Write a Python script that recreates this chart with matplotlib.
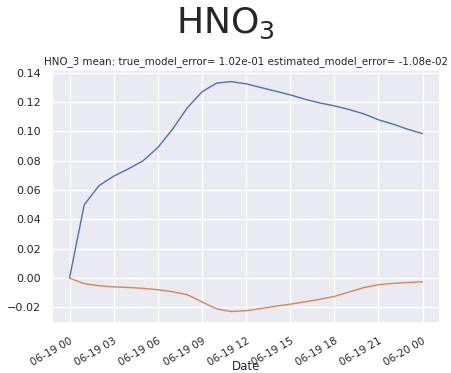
import numpy as np
import pandas as pd
import seaborn as sns
from matplotlib import pyplot as plt
import matplotlib.dates as mdates

# hourly HNO3 model errors over one day
hours = pd.date_range('2021-06-19 00:00', periods=25, freq='h')
true_err = [0.0, 0.050, 0.063, 0.0695, 0.0745, 0.080, 0.089, 0.1015, 0.116, 0.127,
            0.133, 0.134, 0.1325, 0.130, 0.1275, 0.125, 0.122, 0.1195, 0.1175, 0.115,
            0.112, 0.108, 0.105, 0.1015, 0.0985]
est_err = [0.0, -0.0038, -0.0052, -0.006, -0.0064, -0.007, -0.0079, -0.0093, -0.0113,
           -0.0162, -0.021, -0.0228, -0.0222, -0.0208, -0.0192, -0.0178, -0.0162,
           -0.0145, -0.0125, -0.0095, -0.0065, -0.0045, -0.0036, -0.003, -0.0025]

sns.set_theme(style='darkgrid')
plt.rcParams['font.family'] = ['DejaVu Sans']

fig, ax = plt.subplots(figsize=(4.51, 3.73), dpi=100)
fig.subplots_adjust(left=0.115, right=0.976, top=0.812, bottom=0.134)

ax.plot(hours, true_err, lw=1.0)
ax.plot(hours, est_err, lw=1.0)

ax.xaxis.set_major_locator(mdates.HourLocator(byhour=range(0, 24, 3)))
ax.xaxis.set_major_formatter(mdates.DateFormatter('%m-%d %H'))
plt.setp(ax.get_xticklabels(), rotation=30, ha='right', rotation_mode='anchor')
ax.tick_params(axis='x', labelsize=7.5, pad=3)
ax.tick_params(axis='y', labelsize=8, pad=2)
ax.set_xlabel('Date', fontsize=8.5)
ax.xaxis.set_label_coords(0.5, -0.145)

tm = np.mean(true_err)
em = np.mean(est_err)
ax.set_title('HNO_3 mean: true_model_error= %.2e estimated_model_error= %.2e' % (tm, em),
             fontsize=7.4, pad=4)
fig.suptitle('HNO$_3$', fontsize=26, y=0.985)

fig.savefig('out.png', dpi=100)
